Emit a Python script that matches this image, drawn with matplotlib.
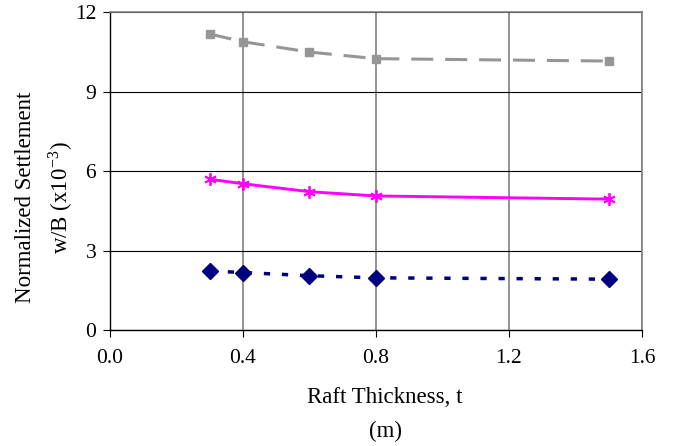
import numpy as np
import matplotlib
matplotlib.use("Agg")
import matplotlib.pyplot as plt

# Raft thickness vs normalized settlement
thickness = [0.3, 0.4, 0.6, 0.8, 1.5]
gray_vals = [11.17, 10.88, 10.49, 10.24, 10.15]
magenta_vals = [5.69, 5.52, 5.22, 5.06, 4.94]
navy_vals = [2.23, 2.17, 2.05, 1.97, 1.92]

x_ticks = [0.0, 0.4, 0.8, 1.2, 1.6]
y_ticks = [0, 3, 6, 9, 12]

plt.rcParams['font.family'] = ['Liberation Serif', 'DejaVu Serif']
plt.rcParams['mathtext.fontset'] = 'stix'

fig = plt.figure(figsize=(6.75, 4.46), dpi=100)
ax = fig.add_axes([0.163, 0.26, 0.788, 0.713])

ax.plot(thickness, gray_vals, color='#969696', linewidth=2.2, linestyle=(0, (7.2, 3.9)),
        marker='s', markersize=6, markerfacecolor='#969696', markeredgecolor='#969696')
ax.plot(thickness, magenta_vals, color='#FF00FF', linewidth=2.1, linestyle='-',
        marker=(6, 2, 0), markersize=9, markeredgewidth=1.3, markeredgecolor='#FF00FF')
ax.plot(thickness, navy_vals, color='#000080', linewidth=2.5, linestyle=(0, (1.8, 3.4)),
        marker='D', markersize=8, markerfacecolor='#000080', markeredgecolor='#000080')

ax.set_xlim(0, 1.6)
ax.set_ylim(0, 12)
ax.set_xticks(x_ticks)
ax.set_xticklabels(['%.1f' % v for v in x_ticks])
ax.set_yticks(y_ticks)

ax.xaxis.grid(True, color='#808080', linewidth=1.2)
ax.yaxis.grid(True, color='black', linewidth=0.8)
ax.set_axisbelow(True)

for side in ['top', 'right']:
    ax.spines[side].set_color('#808080')
    ax.spines[side].set_linewidth(1.2)
for side in ['left', 'bottom']:
    ax.spines[side].set_color('black')
    ax.spines[side].set_linewidth(1.0)

ax.tick_params(direction='out', length=5, labelsize=15.5, pad=9)
ax.tick_params(axis='y', pad=5)

ax.set_xlabel('Raft Thickness, t\n(m)', fontsize=16.5, linespacing=1.8)
ax.set_ylabel('Normalized Settlement\nw/B (x10$^{\\mathregular{-3}}$)', fontsize=16.5,
              linespacing=1.5)
ax.xaxis.set_label_coords(0.517, -0.178)
ax.yaxis.set_label_coords(-0.066, 0.418)

fig.savefig('out.png', dpi=100)
